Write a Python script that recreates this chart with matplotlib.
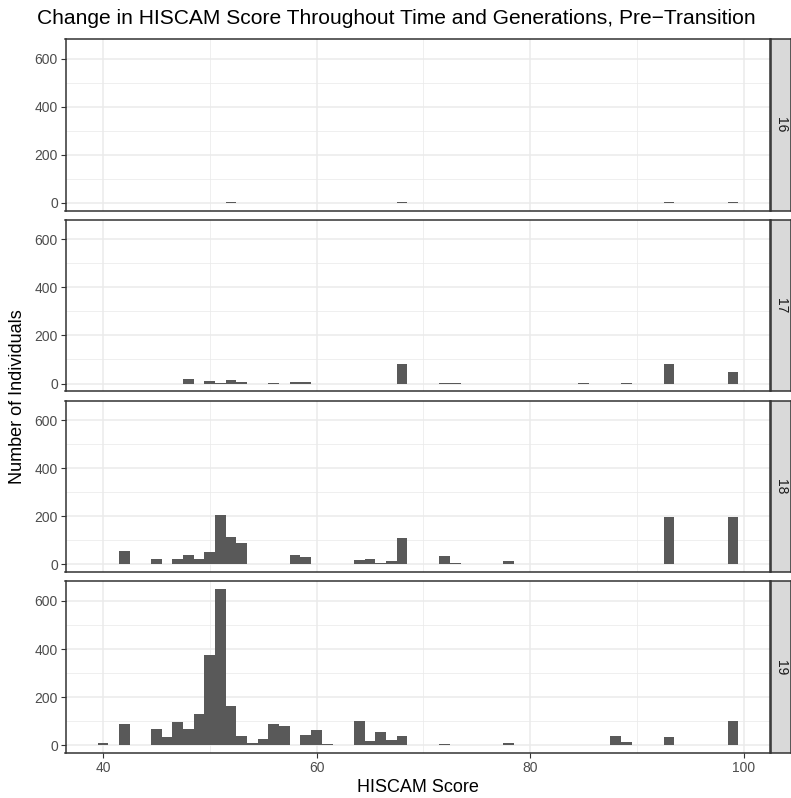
import matplotlib
matplotlib.use("Agg")
import matplotlib.pyplot as plt
import numpy as np

# counts per 1-point HISCAM bin (bins centred on integer scores)
generations = ["16", "17", "18", "19"]

scores_16 = [52, 68, 93, 99]
counts_16 = [2, 2, 2, 5]

scores_17 = [48, 50, 51, 52, 53, 56, 58, 59, 68, 72, 73, 85, 89, 93, 99]
counts_17 = [18, 10, 3, 14, 6, 2, 6, 6, 82, 2, 2, 2, 2, 82, 48]

scores_18 = [40, 42, 45, 47, 48, 49, 50, 51, 52, 53, 54, 55, 56, 57, 58, 59,
             63, 64, 65, 66, 67, 68, 72, 73, 78, 88, 89, 93, 99]
counts_18 = [3, 57, 20, 20, 39, 20, 53, 204, 113, 90, 2, 2, 2, 2, 39, 31,
             3, 16, 20, 7, 12, 109, 35, 7, 15, 3, 3, 195, 195]

scores_19 = [40, 42, 45, 46, 47, 48, 49, 50, 51, 52, 53, 54, 55, 56, 57, 58,
             59, 60, 61, 62, 64, 65, 66, 67, 68, 69, 71, 72, 73, 78, 82, 85,
             88, 89, 93, 99]
counts_19 = [10, 88, 65, 32, 95, 65, 128, 374, 649, 162, 37, 8, 24, 89, 79, 2,
             42, 63, 6, 2, 99, 16, 53, 20, 37, 2, 2, 4, 2, 9, 2, 2,
             36, 12, 32, 99]

panel_data = [(scores_16, counts_16), (scores_17, counts_17),
              (scores_18, counts_18), (scores_19, counts_19)]

x_ticks = [40, 60, 80, 100]
x_minor = [50, 70, 90]
y_ticks = [0, 200, 400, 600]
y_minor = [100, 300, 500]

W, H = 791, 798
fig = plt.figure(figsize=(W / 100, H / 100), dpi=100)
plt.rcParams["font.family"] = ["Liberation Sans", "DejaVu Sans"]

left, right = 65.5, 770.5
strip_w = 20.5
panel_h = 171.5
gap = 9.3
top0 = 39.0

all_scores = np.concatenate([scores_16, scores_17, scores_18, scores_19])
xlo, xhi = all_scores.min() - 0.5, all_scores.max() + 0.5
xpad = (xhi - xlo) * 0.05
ymax = max(max(c) for _, c in panel_data)
ypad = ymax * 0.05

border = "#333333"
grid_major = "#EBEBEB"
tick_col = "#4D4D4D"

for i, (gen, (sc, ct)) in enumerate(zip(generations, panel_data)):
    top = top0 + i * (panel_h + gap)
    ax = fig.add_axes([left / W, 1 - (top + panel_h) / H, (right - left) / W, panel_h / H])
    ax.set_xlim(xlo - xpad, xhi + xpad)
    ax.set_ylim(-ypad, ymax + ypad)
    for v in x_minor:
        ax.axvline(v, color=grid_major, lw=0.55, zorder=0)
    for v in y_minor:
        ax.axhline(v, color=grid_major, lw=0.55, zorder=0)
    for v in x_ticks:
        ax.axvline(v, color=grid_major, lw=1.1, zorder=0)
    for v in y_ticks:
        ax.axhline(v, color=grid_major, lw=1.1, zorder=0)
    ax.bar(sc, ct, width=1.0, color="#595959", linewidth=0, zorder=2)

    ax.set_yticks(y_ticks)
    ax.set_yticklabels([str(v) for v in y_ticks])
    ax.set_xticks(x_ticks)
    ax.tick_params(axis="both", colors=border, labelcolor=tick_col, labelsize=10,
                   width=0.8, length=3.5, pad=2)
    if i == len(generations) - 1:
        ax.set_xticklabels([str(v) for v in x_ticks])
    else:
        ax.tick_params(axis="x", length=0, labelbottom=False)
    for s in ax.spines.values():
        s.set_color(border)
        s.set_linewidth(1.1)

    sx = fig.add_axes([right / W, 1 - (top + panel_h) / H, strip_w / W, panel_h / H])
    sx.set_facecolor("#D9D9D9")
    sx.set_xticks([])
    sx.set_yticks([])
    for s in sx.spines.values():
        s.set_color(border)
        s.set_linewidth(1.1)
    sx.text(0.5, 0.5, gen, rotation=-90, ha="center", va="center", fontsize=10,
            color="#1A1A1A", transform=sx.transAxes)

fig.text(37 / W, 1 - 18 / H, "Change in HISCAM Score Throughout Time and Generations, Pre\u2212Transition",
         ha="left", va="center", fontsize=15.1, color="black")
fig.text((left + right) / 2 / W, 1 - 787 / H, "HISCAM Score", ha="center", va="center",
         fontsize=13, color="black")
fig.text(18 / W, 1 - 397 / H, "Number of Individuals", ha="center", va="center",
         rotation=90, fontsize=13, color="black")

fig.savefig("out.png", dpi=100)
